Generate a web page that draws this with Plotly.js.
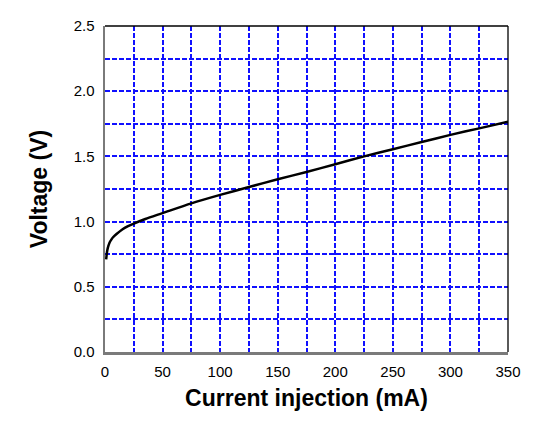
<!DOCTYPE html>
<html>
<head>
<meta charset="utf-8">
<script src="https://cdn.plot.ly/plotly-3.0.1.min.js"></script>
<style>html,body{margin:0;padding:0;background:#fff;}#chart{width:542px;height:428px;}</style>
</head>
<body>
<div id="chart"></div>
<script>
const currentMA = [1, 1.5, 2, 3, 4, 5.5, 7, 10, 15, 20, 25, 35, 50, 75, 100, 125, 150, 175, 200, 225, 250, 275, 300, 325, 350];
const voltageV = [0.71, 0.75, 0.78, 0.815, 0.84, 0.862, 0.88, 0.905, 0.94, 0.965, 0.985, 1.02, 1.065, 1.14, 1.205, 1.265, 1.325, 1.38, 1.44, 1.50, 1.555, 1.61, 1.665, 1.715, 1.765];
const xTickVals = [0, 25, 50, 75, 100, 125, 150, 175, 200, 225, 250, 275, 300, 325, 350];
const xTickText = ['0', '', '50', '', '100', '', '150', '', '200', '', '250', '', '300', '', '350'];
const yTickVals = [0, 0.25, 0.5, 0.75, 1.0, 1.25, 1.5, 1.75, 2.0, 2.25, 2.5];
const yTickText = ['0.0', '', '0.5', '', '1.0', '', '1.5', '', '2.0', '', '2.5'];

const trace = {
  x: currentMA, y: voltageV, type: 'scatter', mode: 'lines',
  line: {color: '#000', width: 2.5, shape: 'spline', smoothing: 0.8}, hoverinfo: 'skip'
};
const gridColor = '#1010ff';
const layout = {
  width: 542, height: 428,
  margin: {l: 105, r: 34, t: 26, b: 76, pad: 0},
  paper_bgcolor: '#fff', plot_bgcolor: '#fff',
  showlegend: false,
  font: {family: 'Liberation Sans, Arial, sans-serif', color: '#000', size: 15},
  xaxis: {
    range: [0, 350], tickvals: xTickVals, ticktext: xTickText,
    showgrid: true, gridcolor: gridColor, gridwidth: 2, griddash: '5px,2px',
    showline: true, linecolor: '#7a7a7a', linewidth: 2.5,
    ticks: 'outside', ticklen: 4, tickcolor: 'rgba(0,0,0,0)', zeroline: false, tickfont: {size: 15},
    title: {text: '<b>Current injection (mA)</b>', font: {size: 23}, standoff: 12}
  },
  yaxis: {
    range: [0, 2.5], tickvals: yTickVals, ticktext: yTickText,
    showgrid: true, gridcolor: gridColor, gridwidth: 2, griddash: '5px,2px',
    showline: true, linecolor: '#7a7a7a', linewidth: 2.5,
    ticks: 'outside', ticklen: 5, tickcolor: 'rgba(0,0,0,0)', zeroline: false, tickfont: {size: 15},
    title: {text: '<b>Voltage (V)</b>', font: {size: 23}, standoff: 20}
  },
  shapes: [
    {type: 'line', xref: 'paper', yref: 'paper', x0: 0, x1: 1, y0: 1, y1: 1, line: {color: '#000', width: 1.3}},
    {type: 'line', xref: 'paper', yref: 'paper', x0: 1, x1: 1, y0: 0, y1: 1, line: {color: '#000', width: 1.3}}
  ]
};
Plotly.newPlot('chart', [trace], layout, {staticPlot: true, displayModeBar: false});
</script>
</body>
</html>
